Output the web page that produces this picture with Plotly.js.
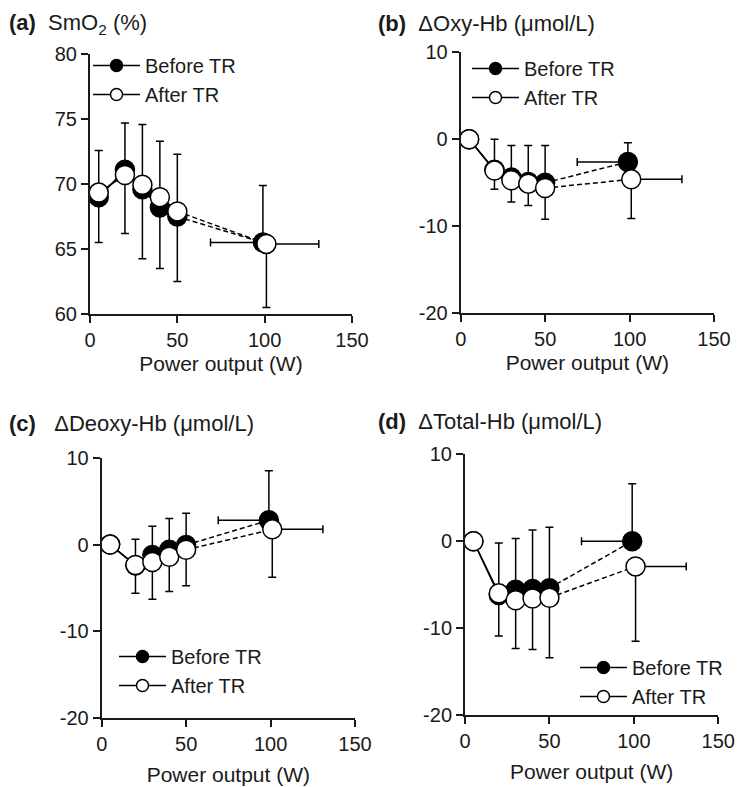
<!DOCTYPE html>
<html>
<head>
<meta charset="utf-8">
<script src="https://cdn.plot.ly/plotly-3.0.1.min.js"></script>
<style>html,body{margin:0;padding:0;background:#fff;}#chart{width:739px;height:787px;}</style>
</head>
<body>
<div id="chart"></div>
<script>
// Power output (W) of submaximal stages, and peak power (before / after TR)
const powerX = [5, 20, 30, 40, 50];
const peakXBefore = 99;
const peakXAfter = 101;
const peakXErrBefore = 30;   // left (minus) error of peak power, before TR
const peakXErrAfter = 30;    // right (plus) error of peak power, after TR

// (a) SmO2 (%) : 5 stages + peak
const smo2Before = [69.0, 71.1, 69.6, 68.2, 67.5, 65.5];
const smo2BeforeErr = [3.6, 3.6, 5.0, 5.1, 4.8, 4.4];
const smo2After = [69.35, 70.7, 69.95, 69.0, 67.9, 65.4];
const smo2AfterErr = [3.85, 4.5, 5.7, 5.5, 5.4, 4.9];

// (b) ΔOxy-Hb
const oxyBefore = [0, -3.5, -4.4, -4.9, -5.0, -2.6];
const oxyBeforeErr = [0, 3.5, 3.7, 4.2, 4.3, 2.2];
const oxyAfter = [0, -3.6, -4.7, -5.1, -5.6, -4.6];
const oxyAfterErr = [0, 2.15, 2.5, 2.5, 3.6, 4.5];

// (c) ΔDeoxy-Hb
const deoxyBefore = [0, -2.4, -1.2, -0.6, -0.05, 2.8];
const deoxyBeforeErr = [0, 3.0, 3.3, 3.6, 3.65, 5.7];
const deoxyAfter = [0, -2.35, -2.0, -1.4, -0.6, 1.75];
const deoxyAfterErr = [0, 3.25, 4.3, 4.0, 4.15, 5.5];

// (d) ΔTotal-Hb
const totalBefore = [0, -6.2, -5.6, -5.5, -5.4, 0.0];
const totalBeforeErr = [0, 6.0, 5.9, 6.8, 7.0, 6.6];
const totalAfter = [0, -6.0, -6.8, -6.6, -6.5, -2.9];
const totalAfterErr = [0, 4.9, 5.55, 5.85, 6.9, 8.6];

const legendNames = ["Before TR", "After TR"];
const panelTitles = [
  "<b>(a)</b>  SmO<sub>2</sub> (%)",
  "<b>(b)</b>  \u0394Oxy-Hb (\u03bcmol/L)",
  "<b>(c)</b>   \u0394Deoxy-Hb (\u03bcmol/L)",
  "<b>(d)</b>  \u0394Total-Hb (\u03bcmol/L)"
];
const xTickVals = [0, 50, 100, 150];
const xTickText = ["0", "50", "100", "150"];
const yRanges = [[60, 80], [-20, 10], [-20, 10], [-20, 10]];
const yTickVals = [[60, 65, 70, 75, 80], [-20, -10, 0, 10], [-20, -10, 0, 10], [-20, -10, 0, 10]];
const yTickText = [["60", "65", "70", "75", "80"], ["-20", "-10", "0", "10"], ["-20", "-10", "0", "10"], ["-20", "-10", "0", "10"]];
const xTitle = "Power output (W)";

const FONT = "Liberation Sans, Arial, Helvetica, sans-serif";
const INK = "#1a1a1a";
const LW = 1.5;
const MS = 19;

const panels = [
  {b: smo2Before, be: smo2BeforeErr, a: smo2After, ae: smo2AfterErr},
  {b: oxyBefore, be: oxyBeforeErr, a: oxyAfter, ae: oxyAfterErr},
  {b: deoxyBefore, be: deoxyBeforeErr, a: deoxyAfter, ae: deoxyAfterErr},
  {b: totalBefore, be: totalBeforeErr, a: totalAfter, ae: totalAfterErr}
];

const W = 739, H = 787;
// pixel boxes [left, right, top, bottom]
const boxes = [
  [90, 352, 54.3, 314],
  [460.7, 714, 52.3, 313.3],
  [101.7, 355, 457.7, 718.3],
  [465, 718.3, 454.3, 715]
];
// legend top-left in pixels
const legendPos = [[88, 46], [467, 49], [114, 637], [575, 648]];
const titlePos = [[7, 24], [376, 23], [7, 423], [376, 421.5]];
const titleStandoff = [6, 6, 13, 13];

const data = [];
const layout = {
  width: W, height: H,
  margin: {l: 0, r: 0, t: 0, b: 0},
  paper_bgcolor: "#fff", plot_bgcolor: "rgba(0,0,0,0)",
  font: {family: FONT, size: 20, color: INK},
  showlegend: true,
  annotations: []
};

panels.forEach((p, i) => {
  const n = i + 1;
  const xa = n === 1 ? "x" : "x" + n;
  const ya = n === 1 ? "y" : "y" + n;
  const lg = n === 1 ? "legend" : "legend" + n;
  const series = [
    {vals: p.b, err: p.be, fill: "#000", px: peakXBefore, up: true, name: legendNames[0]},
    {vals: p.a, err: p.ae, fill: "#fff", px: peakXAfter, up: false, name: legendNames[1]}
  ];
  series.forEach((s) => {
    const sub = s.vals.slice(0, 5);
    const subErr = s.err.slice(0, 5);
    const peak = s.vals[5];
    const peakErr = s.err[5];
    const marker = {size: MS, color: s.fill, line: {color: "#000", width: LW}};
    // dashed connection to peak
    data.push({
      type: "scatter", mode: "lines", xaxis: xa, yaxis: ya,
      x: [powerX[4], s.px], y: [sub[4], peak],
      line: {color: "#000", width: LW, dash: "5px,3px"},
      showlegend: false, hoverinfo: "skip"
    });
    const ey = s.up
      ? {type: "data", symmetric: false, array: subErr, arrayminus: [], color: "#000", thickness: LW, width: 4}
      : {type: "data", symmetric: false, array: [], arrayminus: subErr, color: "#000", thickness: LW, width: 4};
    data.push({
      type: "scatter", mode: "lines+markers", xaxis: xa, yaxis: ya,
      x: powerX, y: sub, name: s.name, showlegend: false,
      line: {color: "#000", width: LW}, marker: marker, error_y: ey
    });
    const eyP = s.up
      ? {type: "data", symmetric: false, array: [peakErr], arrayminus: [], color: "#000", thickness: LW, width: 4}
      : {type: "data", symmetric: false, array: [], arrayminus: [peakErr], color: "#000", thickness: LW, width: 4};
    const exP = s.up
      ? {type: "data", symmetric: false, array: [], arrayminus: [peakXErrBefore], color: "#000", thickness: LW, width: 4}
      : {type: "data", symmetric: false, array: [peakXErrAfter], arrayminus: [], color: "#000", thickness: LW, width: 4};
    data.push({
      type: "scatter", mode: "markers", xaxis: xa, yaxis: ya,
      x: [s.px], y: [peak], marker: marker, error_y: eyP, error_x: exP,
      showlegend: false
    });
    // legend entry (no data points)
    data.push({
      type: "scatter", mode: "lines+markers", xaxis: xa, yaxis: ya,
      x: [null], y: [null], name: s.name, legend: lg, showlegend: true,
      line: {color: "#000", width: LW},
      marker: {size: 12, color: s.fill, line: {color: "#000", width: LW}},
      hoverinfo: "skip"
    });
  });

  const b = boxes[i];
  const axCommon = {
    showgrid: false, zeroline: false, showline: true, linecolor: INK, linewidth: 2,
    ticks: "outside", ticklen: 7, tickwidth: 2, tickcolor: INK,
    tickfont: {family: FONT, size: 20, color: INK}, automargin: false, fixedrange: true
  };
  layout["xaxis" + (n === 1 ? "" : n)] = Object.assign({}, axCommon, {
    domain: [b[0] / W, b[1] / W], range: [0, 150], anchor: ya,
    tickmode: "array", tickvals: xTickVals, ticktext: xTickText,
    title: {text: xTitle, font: {family: FONT, size: 21, color: INK}, standoff: titleStandoff[i]}
  });
  layout["yaxis" + (n === 1 ? "" : n)] = Object.assign({}, axCommon, {
    domain: [1 - b[3] / H, 1 - b[2] / H], range: yRanges[i], anchor: xa,
    tickmode: "array", tickvals: yTickVals[i], ticktext: yTickText[i]
  });
  const lp = legendPos[i];
  layout[lg] = {
    x: lp[0] / W, y: 1 - lp[1] / H, xanchor: "left", yanchor: "top", xref: "paper", yref: "paper",
    bgcolor: "rgba(0,0,0,0)", borderwidth: 0, itemwidth: 47,
    font: {family: FONT, size: 20, color: INK}, tracegroupgap: 0
  };
  const tp = titlePos[i];
  layout.annotations.push({
    text: panelTitles[i], xref: "paper", yref: "paper", x: tp[0] / W, y: 1 - tp[1] / H,
    xanchor: "left", yanchor: "middle", showarrow: false,
    font: {family: FONT, size: 22, color: INK}
  });
});

Plotly.newPlot("chart", data, layout, {staticPlot: true, displayModeBar: false});
</script>
</body>
</html>
